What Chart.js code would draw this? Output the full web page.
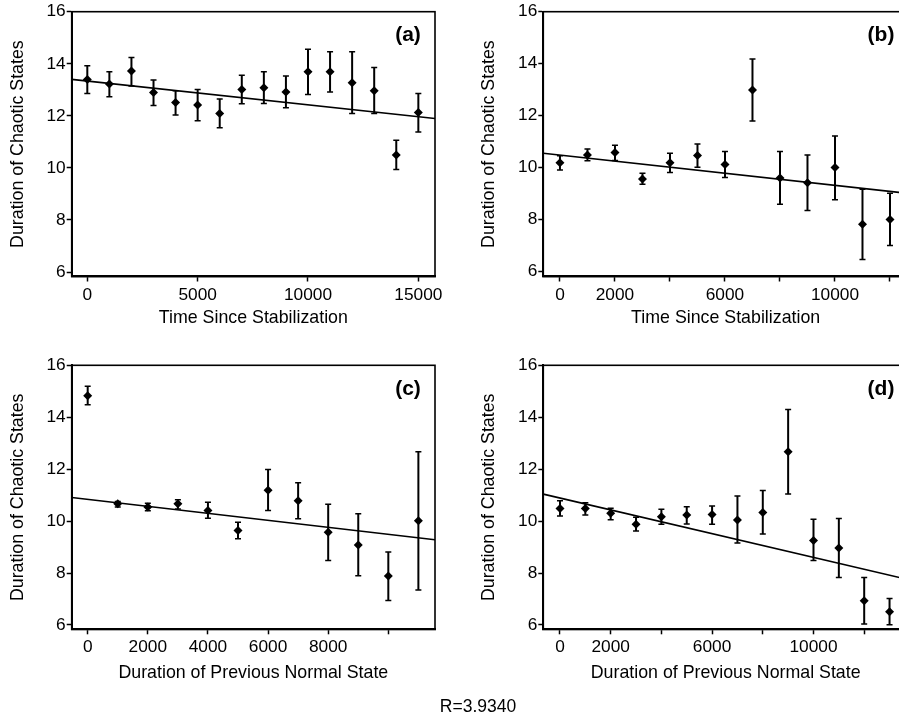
<!DOCTYPE html>
<html>
<head>
<meta charset="utf-8">
<script src="https://cdn.jsdelivr.net/npm/chart.js@4.4.0/dist/chart.umd.min.js"></script>
<style>
html, body { margin: 0; padding: 0; overflow: hidden; background: #fff; }
#wrap { position: relative; width: 899px; height: 717px; overflow: hidden; }
#wrap canvas { position: absolute; }
#rlabel { position: absolute; left: 378px; top: 696px; width: 200px; text-align: center;
  font: 17.5px "Liberation Sans", Arial, sans-serif; line-height: 20px; color: #000; }
</style>
</head>
<body>
<div id="wrap">
  <canvas id="pa" width="450" height="340" style="left:0;top:0"></canvas>
  <canvas id="pb" width="470" height="340" style="left:450px;top:0"></canvas>
  <canvas id="pc" width="450" height="377" style="left:0;top:340px"></canvas>
  <canvas id="pd" width="470" height="377" style="left:450px;top:340px"></canvas>
  <div id="rlabel">R=3.9340</div>
</div>
<script>
/* four panels: duration of chaotic states vs time / previous normal state */
var yTicks = [6, 8, 10, 12, 14, 16];

// (a) time since stabilization
var xA  = [0, 1000, 2000, 3000, 4000, 5000, 6000, 7000, 8000, 9000, 10000, 11000, 12000, 13000, 14000, 15000];
var yA  = [13.40, 13.22, 13.72, 12.90, 12.51, 12.42, 12.09, 13.01, 13.08, 12.92, 13.69, 13.69, 13.27, 12.96, 10.50, 12.13];
var hiA = [13.92, 13.69, 14.24, 13.38, 12.96, 13.01, 12.65, 13.56, 13.69, 13.53, 14.56, 14.46, 14.46, 13.86, 11.06, 12.86];
var loA = [12.86, 12.73, 13.15, 12.40, 12.03, 11.81, 11.54, 12.46, 12.47, 12.31, 12.82, 12.92, 12.09, 12.09, 9.94, 11.38];
var fitXA = [-707, 15755], fitYA = [13.40, 11.90];
var xTicksA = [0, 5000, 10000, 15000], xLabelsA = [0, 5000, 10000, 15000];

// (b) time since stabilization
var xB  = [0, 1000, 2000, 3000, 4000, 5000, 6000, 7000, 8000, 9000, 10000, 11000, 12000];
var yB  = [10.19, 10.49, 10.58, 9.56, 10.19, 10.47, 10.12, 12.99, 9.60, 9.42, 10.00, 7.82, 8.00];
var hiB = [10.46, 10.72, 10.86, 9.78, 10.55, 10.91, 10.62, 14.18, 10.62, 10.49, 11.22, 9.17, 9.01];
var loB = [9.91, 10.26, 10.27, 9.36, 9.81, 10.01, 9.62, 11.79, 8.59, 8.35, 8.76, 6.46, 7.00];
var fitXB = [-606, 12655], fitYB = [10.55, 9.01];
var xTicksB = [0, 2000, 4000, 6000, 8000, 10000, 12000], xLabelsB = [0, 2000, 6000, 10000];

// (c) duration of previous normal state
var xC  = [0, 1000, 2000, 3000, 4000, 5000, 6000, 7000, 8000, 9000, 10000, 11000];
var yC  = [14.83, 10.67, 10.54, 10.67, 10.41, 9.64, 11.19, 10.78, 9.57, 9.08, 7.89, 10.01];
var hiC = [15.19, 10.76, 10.69, 10.82, 10.73, 9.96, 11.99, 11.48, 10.65, 10.28, 8.81, 12.67];
var loC = [14.48, 10.54, 10.40, 10.47, 10.11, 9.32, 10.41, 10.09, 8.48, 7.90, 6.94, 7.35];
var fitXC = [-532, 11553], fitYC = [10.91, 9.28];
var xTicksC = [0, 2000, 4000, 6000, 8000, 10000], xLabelsC = [0, 2000, 4000, 6000, 8000];

// (d) duration of previous normal state
var xD  = [0, 1000, 2000, 3000, 4000, 5000, 6000, 7000, 8000, 9000, 10000, 11000, 12000, 13000];
var yD  = [10.49, 10.49, 10.30, 9.88, 10.17, 10.24, 10.25, 10.04, 10.33, 12.67, 9.25, 8.96, 6.93, 6.51];
var hiD = [10.78, 10.71, 10.50, 10.15, 10.46, 10.55, 10.58, 10.97, 11.18, 14.30, 10.07, 10.10, 7.83, 7.02];
var loD = [10.20, 10.24, 10.05, 9.62, 9.88, 9.89, 9.88, 9.16, 9.50, 11.04, 8.48, 7.83, 6.04, 6.01];
var fitXD = [-658, 13728], fitYD = [11.04, 7.75];
var xTicksD = [0, 2000, 4000, 6000, 8000, 10000, 12000], xLabelsD = [0, 2000, 6000, 10000];

var FONT = '"Liberation Sans", Arial, Helvetica, sans-serif';

function makePanel(id, o) {
    var extras = {
        id: 'extras' + id,
        beforeDatasetsDraw: function(c) {
            var xs = c.scales.x, ys = c.scales.y, ctx = c.ctx;
            ctx.save();
            ctx.strokeStyle = '#000';
            o.x.forEach(function(v, i) {
                var px = xs.getPixelForValue(v), p1 = ys.getPixelForValue(o.lo[i]), p2 = ys.getPixelForValue(o.hi[i]);
                ctx.lineWidth = 2;
                ctx.beginPath(); ctx.moveTo(px, p1); ctx.lineTo(px, p2); ctx.stroke();
                ctx.lineWidth = 1.5;
                ctx.beginPath();
                ctx.moveTo(px - 3, p1); ctx.lineTo(px + 3, p1);
                ctx.moveTo(px - 3, p2); ctx.lineTo(px + 3, p2);
                ctx.stroke();
            });
            ctx.restore();
        },
        afterDatasetsDraw: function(c) {
            var a = c.chartArea, ctx = c.ctx;
            ctx.save();
            ctx.strokeStyle = '#000';
            ctx.lineWidth = 1.6;
            ctx.strokeRect(a.left, a.top, a.right - a.left, a.bottom - a.top);
            ctx.fillStyle = '#000';
            ctx.font = 'bold 21px ' + FONT;
            ctx.textAlign = 'center';
            ctx.textBaseline = 'middle';
            ctx.fillText(o.tag, a.right - 27, a.top + 24);
            ctx.restore();
        }
    };

    new Chart(document.getElementById(id), {
        type: 'scatter',
        data: {
            datasets: [
                { data: o.x.map(function(v, i) { return { x: v, y: o.y[i] }; }), pointStyle: 'rectRot', pointRadius: 4.5, backgroundColor: '#000', borderWidth: 0, order: 1 },
                { type: 'line', data: o.fitX.map(function(v, i) { return { x: v, y: o.fitY[i] }; }), borderColor: '#000', borderWidth: 1.6, pointRadius: 0, fill: false, order: 2 }
            ]
        },
        options: {
            responsive: false, animation: false, devicePixelRatio: 1,
            layout: { padding: { top: o.padTop, right: o.padRight, left: 0, bottom: 0 } },
            plugins: { legend: { display: false }, tooltip: { enabled: false } },
            scales: {
                x: {
                    type: 'linear', min: o.xMin, max: o.xMax,
                    afterBuildTicks: function(s) { s.ticks = o.xTicks.map(function(v) { return { value: v }; }); },
                    afterFit: function(s) { s.height = o.xH; },
                    border: { color: '#000', width: 2.2 },
                    grid: { drawOnChartArea: false, drawTicks: true, tickLength: 5, tickWidth: 1.5, tickColor: '#000' },
                    ticks: { autoSkip: false, maxRotation: 0, padding: 3, color: '#000', font: { family: FONT, size: 17.3 },
                             callback: function(v) { return o.xLabels.indexOf(v) >= 0 ? String(v) : ''; } },
                    title: { display: true, text: o.xTitle, color: '#000', font: { family: FONT, size: 17.8 }, padding: { top: 0, bottom: o.xTitlePad } }
                },
                y: {
                    min: o.yMin, max: 16,
                    afterBuildTicks: function(s) { s.ticks = yTicks.map(function(v) { return { value: v }; }); },
                    afterFit: function(s) { s.width = o.yW; },
                    border: { color: '#000', width: 2 },
                    grid: { drawOnChartArea: false, drawTicks: true, tickLength: 5, tickWidth: 1.5, tickColor: '#000' },
                    ticks: { padding: 1, color: '#000', font: { family: FONT, size: 17.3 } },
                    title: { display: true, text: 'Duration of Chaotic States', color: '#000', font: { family: FONT, size: 17.8 }, padding: { top: o.yTitlePad, bottom: 0 } }
                }
            }
        },
        plugins: [extras]
    });
}

makePanel('pa', { x: xA, y: yA, lo: loA, hi: hiA, fitX: fitXA, fitY: fitYA, xTicks: xTicksA, xLabels: xLabelsA, tag: '(a)',
    xMin: -707, xMax: 15755, yMin: 5.83, padTop: 11.7, padRight: 15, yW: 71.7, xH: 63.5, xTitlePad: 11.3, yTitlePad: 7.6,
    xTitle: 'Time Since Stabilization' });
makePanel('pb', { x: xB, y: yB, lo: loB, hi: hiB, fitX: fitXB, fitY: fitYB, xTicks: xTicksB, xLabels: xLabelsB, tag: '(b)',
    xMin: -606, xMax: 12655, yMin: 5.81, padTop: 11.7, padRight: 12, yW: 93.3, xH: 63.5, xTitlePad: 11.3, yTitlePad: 28.1,
    xTitle: 'Time Since Stabilization' });
makePanel('pc', { x: xC, y: yC, lo: loC, hi: hiC, fitX: fitXC, fitY: fitYC, xTicks: xTicksC, xLabels: xLabelsC, tag: '(c)',
    xMin: -532, xMax: 11553, yMin: 5.834, padTop: 25.3, padRight: 15, yW: 71.7, xH: 87.7, xTitlePad: 32.8, yTitlePad: 7.6,
    xTitle: 'Duration of Previous Normal State' });
makePanel('pd', { x: xD, y: yD, lo: loD, hi: hiD, fitX: fitXD, fitY: fitYD, xTicks: xTicksD, xLabels: xLabelsD, tag: '(d)',
    xMin: -658, xMax: 13728, yMin: 5.834, padTop: 25.3, padRight: 12, yW: 93.3, xH: 87.7, xTitlePad: 32.8, yTitlePad: 28.1,
    xTitle: 'Duration of Previous Normal State' });
</script>
</body>
</html>
